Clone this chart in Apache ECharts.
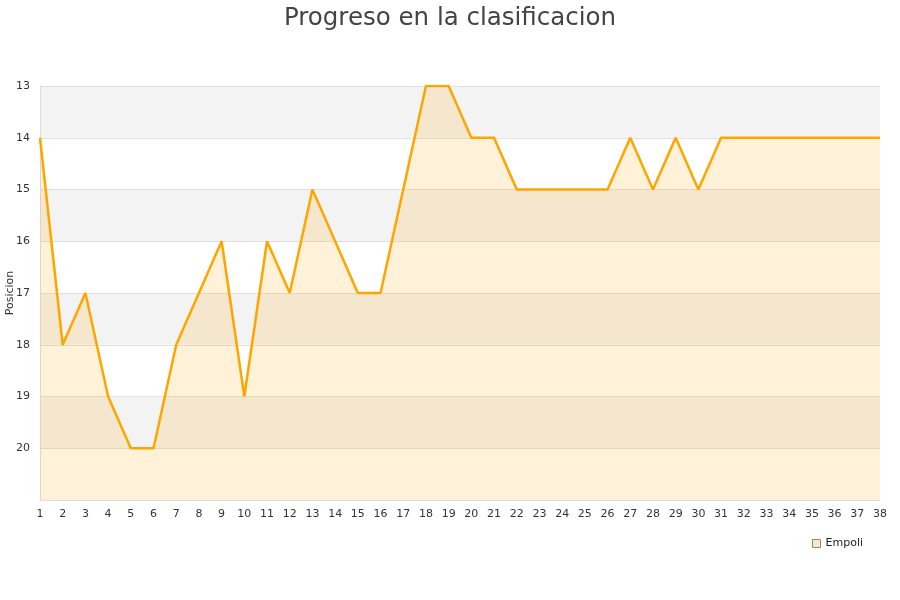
<!DOCTYPE html>
<html><head><meta charset="utf-8">
<script src="https://cdn.jsdelivr.net/npm/echarts@6/dist/echarts.min.js"></script>
<style>html,body{margin:0;padding:0;background:#fff}#c{width:900px;height:600px}</style>
</head><body><div id="c"></div>
<script>
const title = 'Progreso en la clasificacion';
const jornadas = ['1','2','3','4','5','6','7','8','9','10','11','12','13','14','15','16','17','18','19','20','21','22','23','24','25','26','27','28','29','30','31','32','33','34','35','36','37','38'];
const seriesName = 'Empoli';
const posiciones = [14,18,17,19,20,20,18,17,16,19,16,17,15,16,17,17,15,13,13,14,14,15,15,15,15,15,14,15,14,15,14,14,14,14,14,14,14,14];
const yName = 'Posicion';

const chart = echarts.init(document.getElementById('c'), null, {renderer:'canvas'});
chart.setOption({
  animation:false,
  backgroundColor:'#fff',
  title:{text:title,left:'center',top:1,textStyle:{fontFamily:'DejaVu Sans',fontSize:24.5,fontWeight:'normal',color:'#444'}},
  grid:{left:40,right:20,top:86,bottom:100,containLabel:false,outerBoundsMode:'none'},
  legend:{data:[{name:seriesName,icon:'rect',itemStyle:{color:'#ffe6bf',borderColor:'#888',borderWidth:1}}],
    left:807,top:533,itemWidth:8,itemHeight:8,itemGap:8,
    textStyle:{fontFamily:'DejaVu Sans',fontSize:11,color:'#222'}},
  xAxis:{type:'category',data:jornadas,boundaryGap:false,
    axisLine:{show:true,lineStyle:{color:'#ddd'}},axisTick:{show:false},
    axisLabel:{interval:0,color:'#333',fontFamily:'DejaVu Sans',fontSize:11,margin:9},
    splitLine:{show:false}},
  yAxis:{type:'value',inverse:true,min:13,max:21,interval:1,name:yName,nameLocation:'middle',nameGap:24,nameMoveOverlap:false,
    nameTextStyle:{fontFamily:'DejaVu Sans',fontSize:11,color:'#333'},
    axisLine:{show:true,lineStyle:{color:'#ddd'}},axisTick:{show:false},
    axisLabel:{color:'#333',fontFamily:'DejaVu Sans',fontSize:11,margin:10,formatter:v=>v===21?'':String(v)},
    splitLine:{show:true,lineStyle:{color:'#e0e0e0'}},
    splitArea:{show:true,areaStyle:{color:['#f3f3f3','#ffffff']}}},
  series:[{name:seriesName,type:'line',data:posiciones,symbol:'none',
    lineStyle:{color:'#ffa500',width:2.5},itemStyle:{color:'#ffa500'},
    areaStyle:{color:'rgba(255,165,0,0.21)',origin:'end'}}]
});
</script></body></html>
